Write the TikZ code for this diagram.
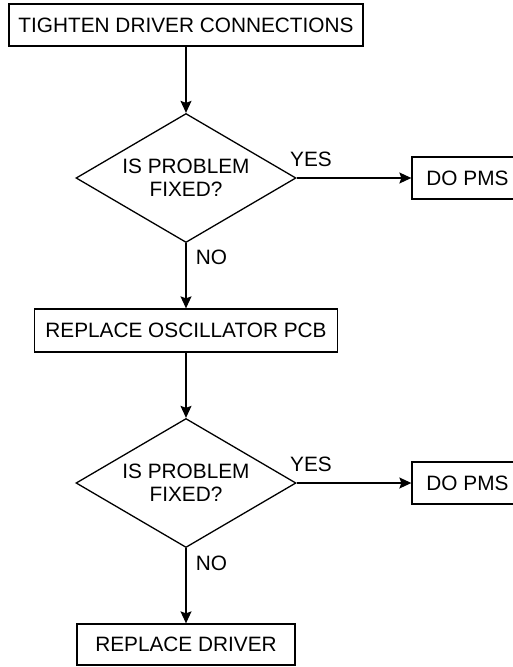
\documentclass[tikz,border=0pt]{standalone}
\usepackage{fontspec}
\setmainfont{Liberation Sans}
\usetikzlibrary{arrows.meta,positioning,shapes.geometric}

\begin{document}
\begin{tikzpicture}[
  x=1pt, y=-1pt, line width=1.3pt,
  stepbox/.style={draw, rectangle, inner sep=0pt, minimum height=42pt,
                  font=\fontsize{20.8}{24}\selectfont},
  decision/.style={draw, diamond, aspect=1.7, inner sep=0pt,
                   minimum width=220pt, minimum height=129pt, align=center,
                   font=\fontsize{20.8}{23}\selectfont},
  branchlabel/.style={font=\fontsize{20.8}{24}\selectfont, inner sep=0pt},
  arr/.style={-{Stealth[length=12pt, width=11pt, inset=2pt]}}
]
  \useasboundingbox (0,0) rectangle (513,667);

  % First pass: tighten and check
  \node[stepbox, minimum width=354pt] (tighten) at (186,25)
       {TIGHTEN DRIVER CONNECTIONS};
  \node[decision] (check1) at (186,178) {IS PROBLEM\\FIXED?};
  \node[stepbox, minimum width=111pt] (pms1) at (467.5,178) {DO PMS};

  \draw[arr] (tighten) -- (check1);
  \draw[arr] (check1) -- (pms1);
  \node[branchlabel] (yes1) at (311,159.5) {YES};
  \node[branchlabel] (no1) at (211.5,257.5) {NO};

  % Second pass: oscillator board
  \node[stepbox, minimum width=303pt, minimum height=43pt] (oscpcb)
       at (186,330.5) {REPLACE OSCILLATOR PCB};
  \draw[arr] (check1) -- (oscpcb);

  \node[decision] (check2) at (186,483) {IS PROBLEM\\FIXED?};
  \node[stepbox, minimum width=111pt] (pms2) at (467.5,483) {DO PMS};

  \draw[arr] (oscpcb) -- (check2);
  \draw[arr] (check2) -- (pms2);
  \node[branchlabel] (yes2) at (311,464.5) {YES};
  \node[branchlabel] (no2) at (211.5,563) {NO};

  % Last resort
  \node[stepbox, minimum width=218pt, minimum height=41pt] (driver)
       at (186,644.5) {REPLACE DRIVER};
  \draw[arr] (check2) -- (driver);
\end{tikzpicture}
\end{document}
